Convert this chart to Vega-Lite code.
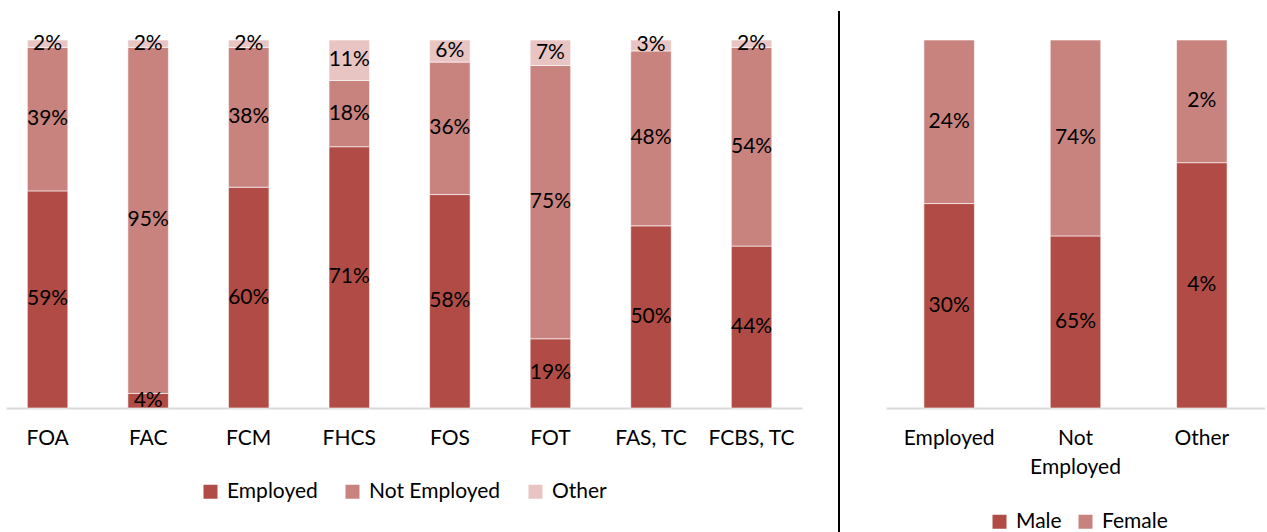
{
  "$schema": "https://vega.github.io/schema/vega-lite/v6.json",
  "padding": {"left": 6, "top": 10, "right": 0, "bottom": 0},
  "spacing": 36,
  "config": {
    "view": {"stroke": null},
    "font": "Lato",
    "axis": {"domainColor": "#D9D9D9", "domainWidth": 2, "ticks": false, "labelFontSize": 21, "labelColor": "#000000", "labelPadding": 19, "labelAngle": 0, "title": null, "grid": false},
    "legend": {"labelFontSize": 21, "labelColor": "#000000", "symbolType": "square", "symbolSize": 196, "symbolStrokeWidth": 0, "columnPadding": 24, "labelOffset": 6, "title": null, "direction": "horizontal", "orient": "none"}
  },
  "datasets": {
    "faculty": [
      {"faculty": "FOA", "status": "Employed", "share": 0.59},
      {"faculty": "FOA", "status": "Not Employed", "share": 0.39},
      {"faculty": "FOA", "status": "Other", "share": 0.02},
      {"faculty": "FAC", "status": "Employed", "share": 0.04},
      {"faculty": "FAC", "status": "Not Employed", "share": 0.95},
      {"faculty": "FAC", "status": "Other", "share": 0.02},
      {"faculty": "FCM", "status": "Employed", "share": 0.60},
      {"faculty": "FCM", "status": "Not Employed", "share": 0.38},
      {"faculty": "FCM", "status": "Other", "share": 0.02},
      {"faculty": "FHCS", "status": "Employed", "share": 0.71},
      {"faculty": "FHCS", "status": "Not Employed", "share": 0.18},
      {"faculty": "FHCS", "status": "Other", "share": 0.11},
      {"faculty": "FOS", "status": "Employed", "share": 0.58},
      {"faculty": "FOS", "status": "Not Employed", "share": 0.36},
      {"faculty": "FOS", "status": "Other", "share": 0.06},
      {"faculty": "FOT", "status": "Employed", "share": 0.19},
      {"faculty": "FOT", "status": "Not Employed", "share": 0.75},
      {"faculty": "FOT", "status": "Other", "share": 0.07},
      {"faculty": "FAS, TC", "status": "Employed", "share": 0.50},
      {"faculty": "FAS, TC", "status": "Not Employed", "share": 0.48},
      {"faculty": "FAS, TC", "status": "Other", "share": 0.03},
      {"faculty": "FCBS, TC", "status": "Employed", "share": 0.44},
      {"faculty": "FCBS, TC", "status": "Not Employed", "share": 0.54},
      {"faculty": "FCBS, TC", "status": "Other", "share": 0.02}
    ],
    "gender": [
      {"status": "Employed", "sex": "Male", "share": 0.30},
      {"status": "Employed", "sex": "Female", "share": 0.24},
      {"status": "Not Employed", "sex": "Male", "share": 0.65},
      {"status": "Not Employed", "sex": "Female", "share": 0.74},
      {"status": "Other", "sex": "Male", "share": 0.04},
      {"status": "Other", "sex": "Female", "share": 0.02}
    ],
    "divider": [{"pos": 1, "top": 1.0788, "bottom": -0.35}]
  },
  "resolve": {"scale": {"color": "independent"}, "legend": {"color": "independent"}},
  "hconcat": [
    {
      "width": 796,
      "height": 368,
      "data": {"name": "faculty"},
      "encoding": {
        "x": {"field": "faculty", "type": "nominal", "sort": null, "scale": {"paddingInner": 0.597, "paddingOuter": 0.256, "align": 0.414}},
        "y": {"field": "share", "type": "quantitative", "stack": "normalize", "axis": null}
      },
      "layer": [
        {
          "mark": {"type": "bar", "stroke": "#ffffff", "strokeWidth": 1, "strokeOpacity": 0.6},
          "encoding": {
            "color": {"field": "status", "type": "nominal", "scale": {"domain": ["Employed", "Not Employed", "Other"], "range": ["#B04C45", "#C9837E", "#E8C4C3"]}, "legend": {"legendX": 194, "legendY": 441}},
            "order": {"field": "status", "sort": "ascending"}
          }
        },
        {
          "mark": {"type": "text", "fontSize": 21, "fill": "#000000", "baseline": "middle"},
          "encoding": {
            "y": {"field": "share", "type": "quantitative", "stack": "normalize", "bandPosition": 0.5, "axis": null},
            "detail": {"field": "status"},
            "order": {"field": "status", "sort": "ascending"},
            "text": {"field": "share", "type": "quantitative", "format": ".0%"}
          }
        }
      ]
    },
    {
      "width": 12,
      "height": 368,
      "data": {"name": "divider"},
      "mark": {"type": "rule", "color": "#000000", "strokeWidth": 2},
      "encoding": {
        "x": {"field": "pos", "type": "quantitative", "scale": {"domain": [0, 12]}, "axis": null},
        "y": {"field": "top", "type": "quantitative", "scale": {"domain": [0, 1], "nice": false}, "axis": null},
        "y2": {"field": "bottom"}
      }
    },
    {
      "width": 379,
      "height": 368,
      "data": {"name": "gender"},
      "encoding": {
        "x": {"field": "status", "type": "nominal", "sort": null, "scale": {"paddingInner": 0.6, "paddingOuter": 0.3}, "axis": {"labelExpr": "datum.value == 'Not Employed' ? ['Not', 'Employed'] : datum.value", "labelLineHeight": 29}},
        "y": {"field": "share", "type": "quantitative", "stack": "normalize", "axis": null}
      },
      "layer": [
        {
          "mark": {"type": "bar", "stroke": "#ffffff", "strokeWidth": 1, "strokeOpacity": 0.6},
          "encoding": {
            "color": {"field": "sex", "type": "nominal", "sort": ["Male", "Female"], "scale": {"domain": ["Male", "Female"], "range": ["#B04C45", "#C9837E"]}, "legend": {"legendX": 103, "legendY": 471, "columnPadding": 13}},
            "order": {"field": "sex", "sort": "descending"}
          }
        },
        {
          "mark": {"type": "text", "fontSize": 21, "fill": "#000000", "baseline": "middle"},
          "encoding": {
            "y": {"field": "share", "type": "quantitative", "stack": "normalize", "bandPosition": 0.5, "axis": null},
            "detail": {"field": "sex"},
            "order": {"field": "sex", "sort": "descending"},
            "text": {"field": "share", "type": "quantitative", "format": ".0%"}
          }
        }
      ]
    }
  ]
}
